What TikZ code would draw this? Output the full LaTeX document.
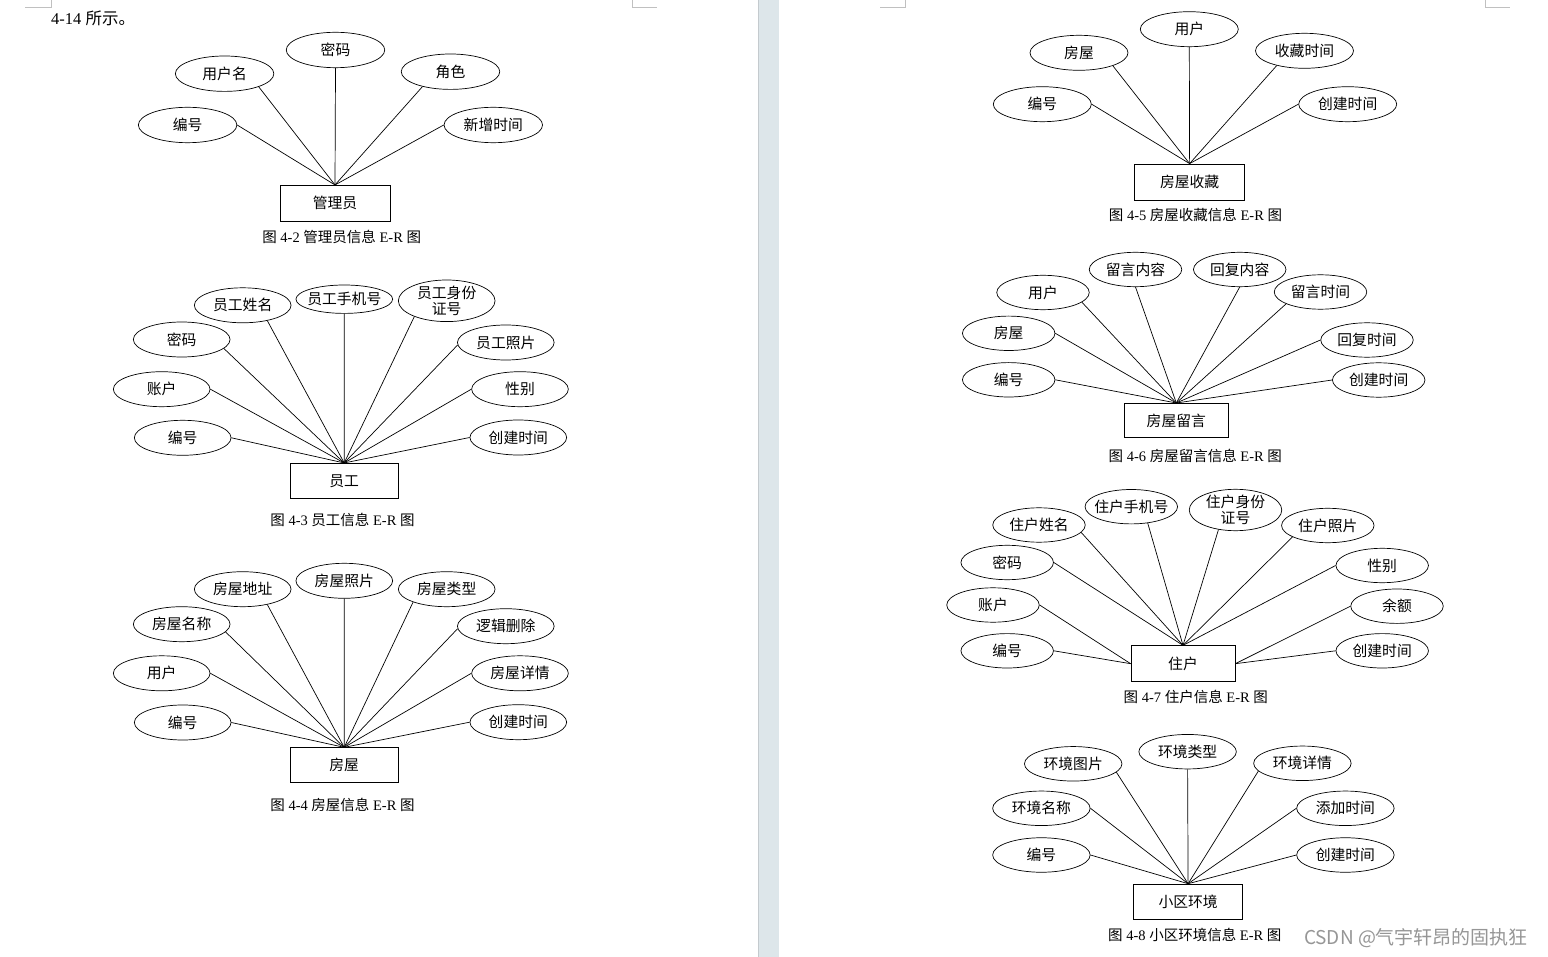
\documentclass[tikz,border=0pt]{standalone}
\usepackage{fontspec}
\setmainfont{Liberation Serif}
\newfontfamily\cjk{Noto Sans CJK SC}
\usetikzlibrary{shapes.geometric}
\definecolor{barc}{RGB}{221,230,234}
\definecolor{baredge}{RGB}{196,202,206}
\definecolor{markc}{RGB}{192,192,192}
\definecolor{wmc}{RGB}{150,150,150}
\begin{document}
\begin{tikzpicture}[x=1pt,y=-1pt,
  attr/.style={ellipse,draw,line width=0.7pt,inner sep=0pt,font=\cjk\fontsize{14.8}{17}\selectfont},
  ent/.style={rectangle,draw,line width=0.7pt,inner sep=0pt,font=\cjk\fontsize{14.8}{17}\selectfont},
  two/.style={label={[align=center,inner sep=0pt,font=\cjk\fontsize{14.8}{16.6}\selectfont]center:#1}},
  lnk/.style={line width=0.7pt},
  captxt/.style={inner sep=0pt,font=\fontsize{14.5}{16}\selectfont},
  da/.style={minimum width=98.5pt,minimum height=35.4pt},
  db/.style={minimum width=96.7pt,minimum height=35pt},
  dd/.style={minimum width=98pt,minimum height=35pt},
  de/.style={minimum width=92.5pt,minimum height=34.4pt},
  dg/.style={minimum width=97.5pt,minimum height=34.5pt}]
\useasboundingbox (0,0) rectangle (1548,957);
\fill[white] (0,0) rectangle (1548,957);
% page separator
\fill[barc] (758,0) rectangle (779,957);
\draw[baredge,line width=0.8pt] (758.4,0) -- (758.4,957);
% corner marks
\draw[markc,line width=0.8pt] (25,7) -- (51,7) -- (51,0);
\draw[markc,line width=0.8pt] (632,0) -- (632,7) -- (657,7);
\draw[markc,line width=0.8pt] (880,7) -- (905,7) -- (905,0);
\draw[markc,line width=0.8pt] (1485,0) -- (1485,7) -- (1510,7);
% top text
\node[anchor=west,inner sep=0pt,font=\fontsize{16.5}{18}\selectfont] (toptext) at (51,18) {4-14 {\cjk 所示。}};

% ===== Diagram 4-2 =====
\node[ent,minimum width=110pt,minimum height=36pt] (A0) at (335,203.3) {管理员};
\node[attr,da] (A1) at (187.6,125) {编号};
\node[attr,da] (A2) at (224.6,73.7) {用户名};
\node[attr,da] (A3) at (335.5,50) {密码};
\node[attr,da] (A4) at (450.5,71.7) {角色};
\node[attr,da] (A5) at (493.3,125) {新增时间};
\draw[lnk] (A1.east) -- (A0.north);
\draw[lnk] (A2.-21) -- (A0.north);
\draw[lnk] (A3.south) -- (A0.north);
\draw[lnk] (A4.208.6) -- (A0.north);
\draw[lnk] (A5.west) -- (A0.north);
\node[captxt] (Acap) at (341.7,236.7) {{\cjk 图} 4-2 {\cjk 管理员信息} E-R {\cjk 图}};

% ===== Diagram 4-3 =====
\node[ent,minimum width=108.3pt,minimum height=35pt] (B0) at (344.2,480.8) {员工};
\node[attr,db] (B1) at (182.7,437.8) {编号};
\node[attr,db] (B2) at (161.7,389.2) {账户};
\node[attr,db] (B3) at (181.7,339.5) {密码};
\node[attr,db] (B4) at (242.7,305.3) {员工姓名};
\node[attr,db,minimum height=28.4pt] (B5) at (344.3,299.2) {\makebox[0pt]{员工手机号}};
\node[attr,db,minimum height=41.6pt,two={员工身份\\证号}] (B6) at (446.7,300.8) {};
\node[attr,db] (B7) at (505.8,342.5) {员工照片};
\node[attr,db] (B8) at (520,389.2) {性别};
\node[attr,db] (B9) at (518.3,437.5) {创建时间};
\draw[lnk] (B1.east) -- (B0.north);
\draw[lnk] (B2.east) -- (B0.north);
\draw[lnk] (B3.-12) -- (B0.north);
\draw[lnk] (B4.-32.7) -- (B0.north);
\draw[lnk] (B5.south) -- (B0.north);
\draw[lnk] (B6.206.8) -- (B0.north);
\draw[lnk] (B7.183) -- (B0.north);
\draw[lnk] (B8.west) -- (B0.north);
\draw[lnk] (B9.west) -- (B0.north);
\node[captxt] (Bcap) at (342.5,520) {{\cjk 图} 4-3 {\cjk 员工信息} E-R {\cjk 图}};

% ===== Diagram 4-4 =====
\node[ent,minimum width=108.3pt,minimum height=35pt] (C0) at (344.2,765.2) {房屋};
\node[attr,db] (C1) at (182.7,722.5) {编号};
\node[attr,db] (C2) at (161.7,673.3) {用户};
\node[attr,db] (C3) at (181.7,624.2) {房屋名称};
\node[attr,db] (C4) at (242.7,589.2) {房屋地址};
\node[attr,db] (C5) at (344.3,580.8) {房屋照片};
\node[attr,db] (C6) at (446.7,589.2) {房屋类型};
\node[attr,db] (C7) at (505.8,626.2) {逻辑删除};
\node[attr,db] (C8) at (520,673.3) {房屋详情};
\node[attr,db] (C9) at (518.3,722.2) {创建时间};
\draw[lnk] (C1.east) -- (C0.north);
\draw[lnk] (C2.east) -- (C0.north);
\draw[lnk] (C3.-10.4) -- (C0.north);
\draw[lnk] (C4.-32.2) -- (C0.north);
\draw[lnk] (C5.south) -- (C0.north);
\draw[lnk] (C6.201.7) -- (C0.north);
\draw[lnk] (C7.183) -- (C0.north);
\draw[lnk] (C8.west) -- (C0.north);
\draw[lnk] (C9.west) -- (C0.north);
\node[captxt] (Ccap) at (342.5,805) {{\cjk 图} 4-4 {\cjk 房屋信息} E-R {\cjk 图}};

% ===== Diagram 4-5 =====
\node[ent,minimum width=110pt,minimum height=36.7pt] (D0) at (1189.6,182.3) {房屋收藏};
\node[attr,dd] (D1) at (1042.3,104.2) {编号};
\node[attr,dd] (D2) at (1079,52.8) {房屋};
\node[attr,dd] (D3) at (1189.3,29.2) {用户};
\node[attr,dd] (D4) at (1304.5,50.8) {收藏时间};
\node[attr,dd] (D5) at (1347.7,104.2) {创建时间};
\draw[lnk] (D1.east) -- (D0.north);
\draw[lnk] (D2.-21) -- (D0.north);
\draw[lnk] (D3.south) -- (D0.north);
\draw[lnk] (D4.208) -- (D0.north);
\draw[lnk] (D5.west) -- (D0.north);
\node[captxt] (Dcap) at (1195.5,215) {{\cjk 图} 4-5 {\cjk 房屋收藏信息} E-R {\cjk 图}};

% ===== Diagram 4-6 =====
\node[ent,minimum width=104pt,minimum height=34.3pt] (E0) at (1176.3,420.5) {房屋留言};
\node[attr,de] (E1) at (1008.7,379.8) {编号};
\node[attr,de] (E2) at (1008.7,333.3) {房屋};
\node[attr,de] (E3) at (1043,292.5) {用户};
\node[attr,de] (E4) at (1135.5,269.5) {留言内容};
\node[attr,de] (E5) at (1239.7,269.5) {回复内容};
\node[attr,de] (E6) at (1320.5,292) {留言时间};
\node[attr,de] (E7) at (1367,340) {回复时间};
\node[attr,de] (E8) at (1378.7,380) {创建时间};
\draw[lnk] (E1.east) -- (E0.north);
\draw[lnk] (E2.east) -- (E0.north);
\draw[lnk] (E3.-14.8) -- (E0.north);
\draw[lnk] (E4.south) -- (E0.north);
\draw[lnk] (E5.south) -- (E0.north);
\draw[lnk] (E6.199.3) -- (E0.north);
\draw[lnk] (E7.west) -- (E0.north);
\draw[lnk] (E8.west) -- (E0.north);
\node[captxt] (Ecap) at (1195.3,455.7) {{\cjk 图} 4-6 {\cjk 房屋留言信息} E-R {\cjk 图}};

% ===== Diagram 4-7 =====
\node[ent,minimum width=104pt,minimum height=36pt] (F0) at (1183,663.7) {住户};
\node[attr,de] (F1) at (1007.2,650.8) {编号};
\node[attr,de] (F2) at (993,605) {账户};
\node[attr,de] (F3) at (1007.2,562.5) {密码};
\node[attr,de] (F4) at (1039,525) {住户姓名};
\node[attr,de] (F5) at (1131.3,506.7) {\makebox[0pt]{住户手机号}};
\node[attr,de,minimum height=41.4pt,two={住户身份\\证号}] (F6) at (1235.5,510) {};
\node[attr,de] (F7) at (1327.8,525.5) {住户照片};
\node[attr,de] (F8) at (1382.2,565.5) {性别};
\node[attr,de] (F9) at (1397,606.2) {余额};
\node[attr,de] (F10) at (1382.2,650.8) {创建时间};
\draw[lnk] (F1.east) -- (F0.west);
\draw[lnk] (F2.east) -- (F0.west);
\draw[lnk] (F3.east) -- (F0.north);
\draw[lnk] (F4.-10.8) -- (F0.north);
\draw[lnk] (F5.-45.5) -- (F0.north);
\draw[lnk] (F6.229.3) -- (F0.north);
\draw[lnk] (F7.198) -- (F0.north);
\draw[lnk] (F8.west) -- (F0.north);
\draw[lnk] (F9.west) -- (F0.east);
\draw[lnk] (F10.west) -- (F0.east);
\node[captxt] (Fcap) at (1195.8,696.7) {{\cjk 图} 4-7 {\cjk 住户信息} E-R {\cjk 图}};

% ===== Diagram 4-8 =====
\node[ent,minimum width=109.4pt,minimum height=35.3pt] (G0) at (1188.1,901.7) {小区环境};
\node[attr,dg] (G1) at (1041.4,855) {编号};
\node[attr,dg] (G2) at (1041.4,808.3) {环境名称};
\node[attr,dg] (G3) at (1073.2,763.8) {环境图片};
\node[attr,dg] (G4) at (1187.6,751.7) {环境类型};
\node[attr,dg] (G5) at (1302.4,763.3) {环境详情};
\node[attr,dg] (G6) at (1345.4,808.3) {添加时间};
\node[attr,dg] (G7) at (1345.4,855) {创建时间};
\draw[lnk] (G1.east) -- (G0.north);
\draw[lnk] (G2.east) -- (G0.north);
\draw[lnk] (G3.-11.9) -- (G0.north);
\draw[lnk] (G4.south) -- (G0.north);
\draw[lnk] (G5.190.9) -- (G0.north);
\draw[lnk] (G6.west) -- (G0.north);
\draw[lnk] (G7.west) -- (G0.north);
\node[captxt] (Gcap) at (1194.8,935) {{\cjk 图} 4-8 {\cjk 小区环境信息} E-R {\cjk 图}};

% watermark
\node[inner sep=0pt,text=wmc,font=\cjk\fontsize{19}{21}\selectfont] (wm) at (1416,938) {CSDN @气宇轩昂的固执狂};
\end{tikzpicture}
\end{document}
